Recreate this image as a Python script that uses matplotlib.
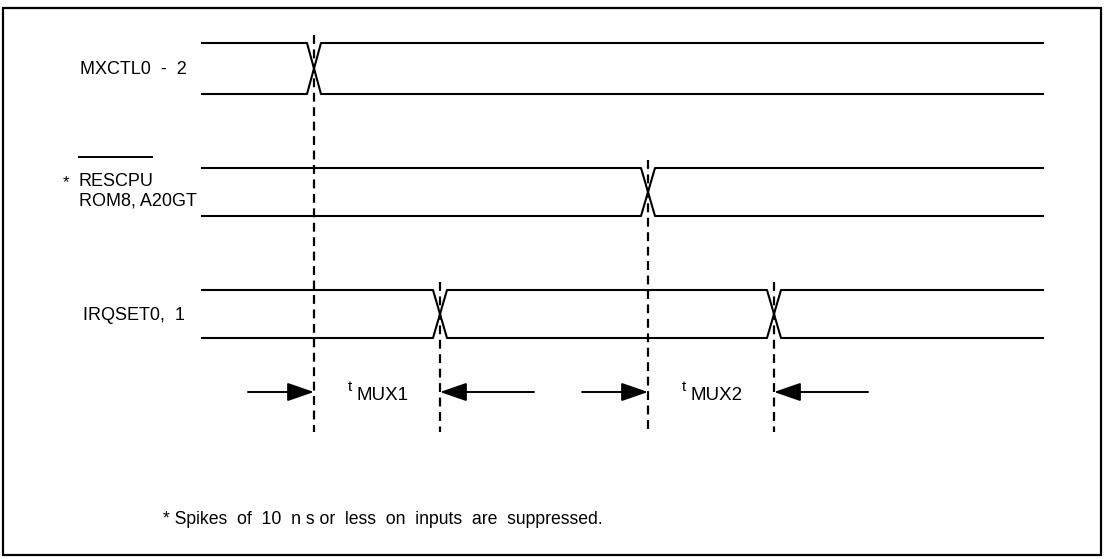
import matplotlib.pyplot as plt
from matplotlib.patches import Rectangle

# timing data (time axis in drawing units)
signal_labels = ["MXCTL0  -  2", "* RESCPU\nROM8, A20GT", "IRQSET0,  1"]
edges = [[314], [648], [440, 774]]
t_start = 202
t_end = 1043
mux_names = ["MUX1", "MUX2"]
mux_from = [314, 648]
mux_to = [440, 774]
footnote = "* Spikes  of  10  n s or  less  on  inputs  are  suppressed."

plt.rcParams['font.family'] = ['Liberation Sans', 'DejaVu Sans']

fig = plt.figure(figsize=(11.05, 5.59), dpi=100)
ax = fig.add_axes([0, 0, 1, 1])
ax.set_xlim(0, 1105)
ax.set_ylim(559, 0)
ax.axis("off")

ax.add_patch(Rectangle((3, 8), 1098, 547, fill=False, lw=1.6, color="black"))

row_top = [43, 168, 290]
row_h = [51, 48, 48]
half_w = 7
lw = 1.5

for i, row_edges in enumerate(edges):
    top = row_top[i]
    bot = top + row_h[i]
    xs_a = [t_start]
    ys_a = [top]
    xs_b = [t_start]
    ys_b = [bot]
    level_a, level_b = top, bot
    for e in row_edges:
        xs_a += [e - half_w, e + half_w]
        ys_a += [level_a, level_b]
        xs_b += [e - half_w, e + half_w]
        ys_b += [level_b, level_a]
        level_a, level_b = level_b, level_a
    xs_a.append(t_end)
    ys_a.append(level_a)
    xs_b.append(t_end)
    ys_b.append(level_b)
    ax.plot(xs_a, ys_a, color="black", lw=lw)
    ax.plot(xs_b, ys_b, color="black", lw=lw)

    # dashed reference lines at each edge
    for e in row_edges:
        ax.plot([e, e], [top - 8, 432], color="black", lw=1.6,
                linestyle=(0, (4, 2.5)))

# signal labels
ax.text(80, 70, signal_labels[0], fontsize=13, va="center", ha="left")
ax.text(63, 183, "*", fontsize=12, va="center", ha="left")
ax.text(79, 181, "RESCPU", fontsize=13, va="center", ha="left")
ax.text(79, 201, "ROM8, A20GT", fontsize=13, va="center", ha="left")
ax.plot([79, 152], [157, 157], color="black", lw=1.4)
ax.text(83, 315, signal_labels[2], fontsize=13, va="center", ha="left")

# tMUX arrows
arrow_y = 392
aprops = dict(arrowstyle="-|>,head_length=1.1,head_width=0.38", color="black",
              lw=1.4, shrinkA=0, shrinkB=0, mutation_scale=15)
for name, a, b in zip(mux_names, mux_from, mux_to):
    ax.annotate("", xy=(a, arrow_y), xytext=(a - 66, arrow_y), arrowprops=aprops)
    ax.annotate("", xy=(b, arrow_y), xytext=(b + 94, arrow_y), arrowprops=aprops)
    ax.text(a + 34, arrow_y - 5, "t", fontsize=11, va="center", ha="left")
    ax.text(a + 42, arrow_y + 4, name, fontsize=13.5, va="center", ha="left")

ax.text(163, 520, footnote, fontsize=12.7, va="center", ha="left")

plt.savefig("out.png", dpi=100)
